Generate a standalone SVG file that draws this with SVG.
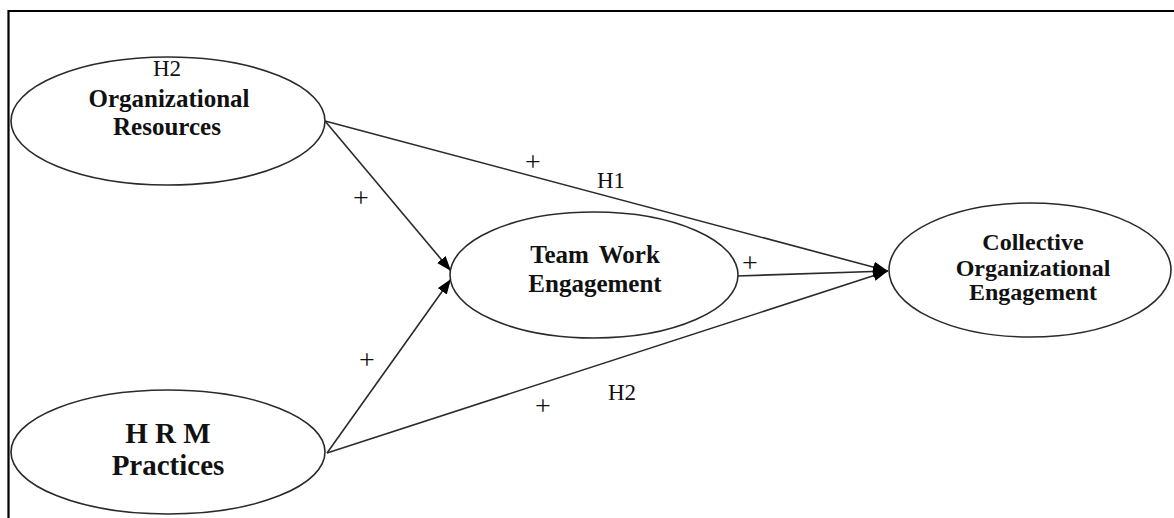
<svg xmlns="http://www.w3.org/2000/svg" width="1174" height="518" viewBox="0 0 1174 518">
  <style>
    .node { fill: #ffffff; stroke: #2a2a2a; stroke-width: 1.6; }
    .edge { stroke: #2a2a2a; stroke-width: 1.6; fill: none; marker-end: url(#head); }
    .title { font-family: "Liberation Serif", serif; font-weight: bold; fill: #111; text-anchor: middle; }
    .sign { font-family: "Liberation Serif", serif; fill: #111; text-anchor: middle; }
    .plus { font-family: "Liberation Serif", serif; fill: #111; text-anchor: middle; font-size: 28px; }
  </style>
  <defs>
    <marker id="head" markerUnits="userSpaceOnUse" markerWidth="16" markerHeight="12" refX="15" refY="5.5" orient="auto">
      <path d="M0,0 L15,5.5 L0,11 Z" fill="#000"/>
    </marker>
  </defs>
  <rect width="1174" height="518" fill="#ffffff"/>

  <!-- frame: top and left rules -->
  <path d="M8.5,518 L8.5,11 L1174,11" fill="none" stroke="#000" stroke-width="2.2"/>

  <!-- connectors -->
  <g id="connectors">
    <line class="edge" x1="325" y1="121" x2="888" y2="271"/>
    <line class="edge" x1="325" y1="121" x2="451" y2="271"/>
    <line class="edge" x1="327" y1="453" x2="451" y2="279"/>
    <line class="edge" x1="327" y1="453" x2="888" y2="271"/>
    <line class="edge" x1="737" y1="276" x2="888" y2="271"/>
    <text class="plus" x="533" y="171">+</text>
    <text class="sign" x="611" y="188" font-size="23">H1</text>
    <text class="plus" x="361" y="207">+</text>
    <text class="plus" x="750" y="272">+</text>
    <text class="plus" x="367" y="369">+</text>
    <text class="plus" x="543" y="415">+</text>
    <text class="sign" x="622" y="400" font-size="23">H2</text>
  </g>

  <g id="organizational-resources">
    <ellipse class="node" cx="168" cy="121" rx="157" ry="64"/>
    <text class="sign" x="167" y="76" font-size="23">H2</text>
    <text class="title" x="169" y="107" font-size="25">Organizational</text>
    <text class="title" x="167" y="135" font-size="25">Resources</text>
  </g>

  <g id="hrm-practices">
    <ellipse class="node" cx="168" cy="452" rx="157" ry="62"/>
    <text class="title" x="168" y="443" font-size="29">H R M</text>
    <text class="title" x="168" y="475" font-size="29">Practices</text>
  </g>

  <g id="team-work-engagement">
    <ellipse class="node" cx="594" cy="275" rx="144" ry="63"/>
    <text class="title" x="595" y="263" font-size="25" word-spacing="4">Team Work</text>
    <text class="title" x="595" y="292" font-size="25">Engagement</text>
  </g>

  <g id="collective-organizational-engagement">
    <ellipse class="node" cx="1030" cy="270" rx="141" ry="67"/>
    <text class="title" x="1033" y="250" font-size="24">Collective</text>
    <text class="title" x="1033" y="276" font-size="24">Organizational</text>
    <text class="title" x="1033" y="300" font-size="24">Engagement</text>
  </g>
</svg>
